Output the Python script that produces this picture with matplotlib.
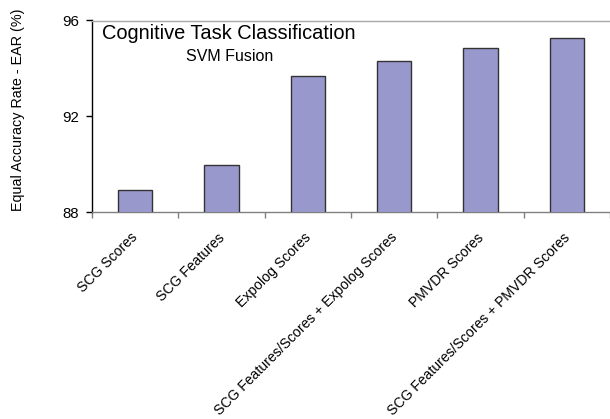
import numpy as np
import matplotlib
matplotlib.use('Agg')
import matplotlib.pyplot as plt

plt.rcParams['font.family'] = ['Liberation Sans', 'DejaVu Sans']

# data
categories = ['SCG Scores', 'SCG Features', 'Expolog Scores',
              'SCG Features/Scores + Expolog Scores', 'PMVDR Scores',
              'SCG Features/Scores + PMVDR Scores']
ear = [88.93, 89.98, 93.68, 94.33, 94.87, 95.25]
yticks = [88, 92, 96]

fig = plt.figure(figsize=(6.1, 4.19), dpi=100)
ax = fig.add_axes([92/610, 1-212.3/419, 1-92/610, (212.3-20.5)/419])

x = np.arange(len(categories))
ax.bar(x, ear, width=0.4, bottom=0, color='#9898CC', edgecolor='#333333',
       linewidth=1.0, zorder=3)

ax.set_xlim(-0.5, len(categories)-0.5)
ax.set_ylim(88, 96)
ax.set_yticks(yticks)
ax.set_yticklabels([str(v) for v in yticks], fontsize=10.8)
ax.tick_params(axis='y', direction='out', length=4.5, width=1, pad=5, colors='black')

# labels sit a touch left of the bar centres, tick marks at category boundaries
ax.set_xticks(x - 0.05)
ax.set_xticklabels(categories, rotation=45, ha='right', va='top',
                   rotation_mode='anchor', fontsize=10.1)
ax.tick_params(axis='x', which='major', length=0, pad=13)
ax.set_xticks(np.arange(len(categories)+1)-0.5, minor=True)
ax.tick_params(axis='x', which='minor', direction='out', length=4.5,
               width=1, color='#808080')

ax.spines['right'].set_visible(False)
ax.spines['top'].set_color('#A8A8A8')
ax.spines['bottom'].set_color('#808080')
ax.spines['left'].set_color('black')
for s in ax.spines.values():
    s.set_linewidth(1)

ax.set_ylabel('Equal Accuracy Rate - EAR (%)', fontsize=10.4)
ax.yaxis.set_label_coords(-0.129, 0.533)

ax.text(0.0193, 0.9035, 'Cognitive Task Classification', transform=ax.transAxes,
        fontsize=14.4, va='baseline', ha='left')
ax.text(0.181, 0.789, 'SVM Fusion', transform=ax.transAxes,
        fontsize=11.5, va='baseline', ha='left')

fig.savefig('out.png', dpi=100)
